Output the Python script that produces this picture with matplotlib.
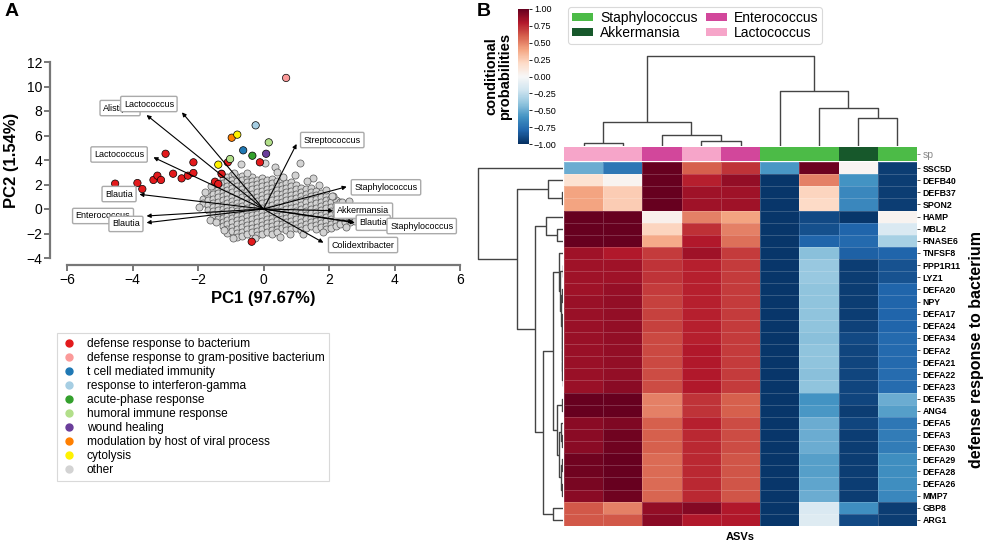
import numpy as np
import matplotlib
matplotlib.use("Agg")
import matplotlib.pyplot as plt
from matplotlib.lines import Line2D
from matplotlib.patches import Patch

plt.rcParams['font.family'] = ['Liberation Sans', 'DejaVu Sans']

# ---------------- Panel A data ----------------
go_terms = ["defense response to bacterium", "defense response to gram-positive bacterium",
            "t cell mediated immunity", "response to interferon-gamma", "acute-phase response",
            "humoral immune response", "wound healing", "modulation by host of viral process",
            "cytolysis", "other"]
go_colors = ["#e31a1c", "#fb9a99", "#1f78b4", "#a6cee3", "#33a02c", "#b2df8a",
             "#6a3d9a", "#ff7f00", "#fff200", "#d3d3d3"]

# highlighted ASVs (outside / on top of the cloud)
hit_x = [-4.53, -3.85, -3.70, -3.36, -3.24, -3.13, -2.99, -2.76, -2.50, -2.31, -2.14, -2.14,
         -1.48, -1.38, -1.28, -1.09, -0.11, -0.36,
         0.69, -4.28, -0.62, -0.24, -0.34, 0.16, -1.02, 0.08, -0.97, -0.80, -1.38]
hit_y = [2.07, 2.12, 1.63, 2.37, 2.72, 2.37, 4.51, 2.88, 2.50, 2.72, 2.94, 3.81,
         2.23, 2.04, 2.86, 3.81, 3.81, -2.67,
         10.70, 1.47, 4.79, 6.83, 4.35, 5.44, 4.08, 4.51, 5.82, 6.07, 3.62]
hit_term = [0, 0, 0, 0, 0, 0, 0, 0, 0, 0, 0, 0,
            0, 0, 0, 0, 0, 0,
            1, 1, 2, 3, 4, 5, 5, 6, 7, 8, 8]

# coloured ASVs partly buried in the cloud
buried_x = [0.05, 0.78, -0.60, 0.17, 0.96, -1.39, -1.48, -0.18, 1.47, 1.39, -0.70, 1.51, 2.34]
buried_y = [2.10, 1.41, -1.70, -1.12, -1.44, -0.33, 1.69, 1.63, 0.95, 0.73, 1.63, -0.96, -0.96]
buried_term = [0, 0, 0, 0, 4, 4, 5, 5, 5, 6, 7, 8, 8]

# the grey "other" cloud, column by column
other_col_x = [-1.85, -1.7, -1.55, -1.4, -1.25, -1.1, -0.95, -0.8, -0.65, -0.5, -0.35, -0.2,
               -0.05, 0.1, 0.25, 0.4, 0.55, 0.7, 0.85, 1.0, 1.15, 1.3, 1.45, 1.6, 1.75, 1.9,
               2.05, 2.2, 2.35, 2.5, 2.65, 2.8]
other_col_y = [
    [0.85, 0.45],
    [1.1, 0.7, 0.3, -0.05],
    [1.55, 1.2, 0.85, 0.5, 0.15, -0.2, -0.5],
    [2.0, 1.65, 1.3, 0.95, 0.6, 0.25, -0.1, -0.45, -0.8],
    [2.45, 2.1, 1.75, 1.4, 1.05, 0.7, 0.35, 0.0, -0.35, -0.7, -1.05, -1.4],
    [2.6, 2.25, 1.9, 1.55, 1.2, 0.85, 0.5, 0.15, -0.2, -0.55, -0.9, -1.25, -1.6, -1.95],
    [2.75, 2.4, 2.05, 1.7, 1.35, 1.0, 0.65, 0.3, -0.05, -0.4, -0.75, -1.1, -1.45, -1.8],
    [2.6, 2.25, 1.9, 1.55, 1.2, 0.85, 0.5, 0.15, -0.2, -0.55, -0.9, -1.25, -1.6, -1.95, -2.25],
    [2.7, 2.35, 2.0, 1.65, 1.3, 0.95, 0.6, 0.25, -0.1, -0.45, -0.8, -1.15, -1.5, -1.85, -2.2],
    [2.55, 2.2, 1.85, 1.5, 1.15, 0.8, 0.45, 0.1, -0.25, -0.6, -0.95, -1.3, -1.65, -2.0],
    [2.65, 2.3, 1.95, 1.6, 1.25, 0.9, 0.55, 0.2, -0.15, -0.5, -0.85, -1.2, -1.55, -1.9],
    [2.4, 2.05, 1.7, 1.35, 1.0, 0.65, 0.3, -0.05, -0.4, -0.75, -1.1, -1.45, -1.8, -2.1],
    [2.55, 2.2, 1.85, 1.5, 1.15, 0.8, 0.45, 0.1, -0.25, -0.6, -0.95, -1.3, -1.65, -2.0],
    [2.35, 2.0, 1.65, 1.3, 0.95, 0.6, 0.25, -0.1, -0.45, -0.8, -1.15, -1.5, -1.85],
    [2.45, 2.1, 1.75, 1.4, 1.05, 0.7, 0.35, 0.0, -0.35, -0.7, -1.05, -1.4, -1.75, -2.05],
    [2.25, 1.9, 1.55, 1.2, 0.85, 0.5, 0.15, -0.2, -0.55, -0.9, -1.25, -1.6, -1.9],
    [2.3, 1.95, 1.6, 1.25, 0.9, 0.55, 0.2, -0.15, -0.5, -0.85, -1.2, -1.55],
    [2.1, 1.75, 1.4, 1.05, 0.7, 0.35, 0.0, -0.35, -0.7, -1.05, -1.4, -1.75],
    [2.2, 1.85, 1.5, 1.15, 0.8, 0.45, 0.1, -0.25, -0.6, -0.95, -1.3, -1.65],
    [1.95, 1.6, 1.25, 0.9, 0.55, 0.2, -0.15, -0.5, -0.85, -1.2, -1.55],
    [1.75, 1.4, 1.05, 0.7, 0.35, 0.0, -0.35, -0.7, -1.05, -1.4, -1.75],
    [1.6, 1.25, 0.9, 0.55, 0.2, -0.15, -0.5, -0.85, -1.2, -1.55],
    [1.75, 1.4, 1.05, 0.7, 0.35, 0.0, -0.35, -0.7, -1.05, -1.4],
    [1.5, 1.15, 0.8, 0.45, 0.1, -0.25, -0.6, -0.95, -1.3, -1.6],
    [1.3, 0.95, 0.6, 0.25, -0.1, -0.45, -0.8, -1.15, -1.5],
    [1.1, 0.75, 0.4, 0.05, -0.3, -0.65, -1.0, -1.35, -1.65],
    [0.9, 0.55, 0.2, -0.15, -0.5, -0.85, -1.2, -1.55],
    [0.7, 0.35, 0.0, -0.35, -0.7, -1.05, -1.4],
    [0.55, 0.2, -0.15, -0.5, -0.85, -1.2],
    [0.3, -0.05, -0.4, -0.75, -1.1],
    [0.0, -0.35, -0.7, -1.05],
    [-0.55, -0.95],
]
other_out_x = [-0.70, 0.05, 0.35, 0.42, 1.11, 0.95, 1.50, 1.70, 2.13, 2.40, -0.90, -1.30,
               0.60, -0.50, -1.60, -1.78, -1.20, -0.92, 0.50, 1.22, 1.82, 2.52, 2.92, 2.62,
               1.92, 1.33, -1.62, -1.97, -0.25, 0.80, 2.10, -1.45]
other_out_y = [3.70, 3.73, 3.40, 3.06, 3.76, 2.80, 2.50, 1.95, 1.10, 0.55, 2.95, 2.95,
               2.60, 2.95, 1.90, 1.35, -1.75, -2.35, -2.25, -2.05, -1.90, -1.50, -0.25, 0.65,
               1.55, 2.25, -0.90, 0.20, -2.40, -2.05, 1.05, -1.10]

# loading vectors (genera)
load_names = ["Alistipes", "Lactococcus", "Lactococcus", "Streptococcus", "Staphylococcus",
              "Akkermansia", "Blautia", "Staphylococcus", "Colidextribacter", "Blautia",
              "Enterococcus", "Blautia"]
load_tip_x = [-3.57, -2.49, -3.36, 1.01, 2.54, 2.13, 2.79, 2.74, 1.83, -3.79, -3.57, -3.57]
load_tip_y = [7.67, 7.89, 4.22, 5.31, 1.82, -0.14, -1.12, -1.05, -2.75, 1.20, -0.57, -1.12]
label_x = [-4.38, -3.50, -4.41, 2.10, 3.74, 3.05, 3.35, 4.83, 3.04, -4.41, -4.90, -4.20]
label_y = [8.24, 8.57, 4.45, 5.63, 1.77, -0.14, -1.12, -1.39, -2.94, 1.22, -0.57, -1.22]

# ---------------- Panel B data ----------------
genes = ["SSC5D", "DEFB40", "DEFB37", "SPON2", "HAMP", "MBL2", "RNASE6", "TNFSF8", "PPP1R11",
         "LYZ1", "DEFA20", "NPY", "DEFA17", "DEFA24", "DEFA34", "DEFA2", "DEFA21", "DEFA22",
         "DEFA23", "DEFA35", "ANG4", "DEFA5", "DEFA3", "DEFA30", "DEFA29", "DEFA28", "DEFA26",
         "MMP7", "GBP8", "ARG1"]
asv_species = ["Lactococcus", "Lactococcus", "Enterococcus", "Lactococcus", "Enterococcus",
               "Staphylococcus", "Staphylococcus", "Akkermansia", "Staphylococcus"]
species_names = ["Staphylococcus", "Akkermansia", "Enterococcus", "Lactococcus"]
species_colors = ["#4cbb47", "#17582b", "#d2479b", "#f6a5c9"]

cond_prob = [
    [-0.50, -0.72, 1.00, 0.60, 0.72, -0.58, 0.98, 0.02, -0.95],
    [0.15, 0.03, 1.00, 0.78, 0.88, -0.97, 0.50, -0.60, -0.95],
    [0.40, 0.25, 1.00, 0.85, 0.85, -0.97, 0.22, -0.65, -0.95],
    [0.40, 0.25, 1.00, 0.85, 0.85, -0.97, 0.20, -0.65, -0.95],
    [1.00, 1.00, 0.05, 0.50, 0.40, -0.97, -0.90, -0.97, 0.03],
    [1.00, 1.00, 0.22, 0.73, 0.50, -0.97, -0.88, -0.80, -0.15],
    [1.00, 1.00, 0.38, 0.80, 0.55, -0.97, -0.80, -0.78, -0.33],
    [0.85, 0.80, 0.70, 0.85, 0.70, -0.97, -0.42, -0.82, -0.80],
    [0.85, 0.85, 0.72, 0.78, 0.70, -0.97, -0.38, -0.95, -0.87],
    [0.85, 0.85, 0.72, 0.78, 0.70, -0.97, -0.38, -0.95, -0.87],
    [0.85, 0.87, 0.70, 0.78, 0.70, -0.97, -0.40, -0.95, -0.80],
    [0.86, 0.88, 0.68, 0.78, 0.70, -0.97, -0.40, -0.95, -0.80],
    [0.86, 0.88, 0.68, 0.78, 0.70, -0.97, -0.40, -0.95, -0.80],
    [0.86, 0.88, 0.68, 0.78, 0.70, -0.97, -0.40, -0.93, -0.80],
    [0.86, 0.88, 0.66, 0.78, 0.70, -0.97, -0.42, -0.90, -0.78],
    [0.86, 0.88, 0.66, 0.80, 0.70, -0.97, -0.40, -0.92, -0.78],
    [0.86, 0.88, 0.66, 0.80, 0.70, -0.97, -0.40, -0.92, -0.78],
    [0.86, 0.88, 0.65, 0.80, 0.70, -0.97, -0.42, -0.92, -0.77],
    [0.86, 0.90, 0.65, 0.80, 0.70, -0.97, -0.40, -0.92, -0.77],
    [1.00, 1.00, 0.50, 0.72, 0.60, -0.97, -0.60, -0.92, -0.50],
    [1.00, 1.00, 0.50, 0.72, 0.60, -0.97, -0.58, -0.95, -0.55],
    [0.90, 0.93, 0.60, 0.78, 0.65, -0.97, -0.50, -0.92, -0.72],
    [0.90, 0.97, 0.60, 0.75, 0.65, -0.97, -0.50, -0.95, -0.70],
    [0.90, 0.97, 0.60, 0.75, 0.65, -0.97, -0.50, -0.95, -0.70],
    [0.97, 1.00, 0.57, 0.75, 0.63, -0.97, -0.55, -0.95, -0.62],
    [0.97, 1.00, 0.57, 0.75, 0.63, -0.97, -0.55, -0.95, -0.62],
    [0.95, 1.00, 0.57, 0.75, 0.63, -0.97, -0.53, -0.95, -0.62],
    [0.90, 0.97, 0.58, 0.75, 0.63, -0.97, -0.50, -0.95, -0.65],
    [0.62, 0.50, 0.88, 0.92, 0.80, -0.97, -0.15, -0.62, -0.95],
    [0.62, 0.62, 0.90, 0.80, 0.80, -0.97, -0.13, -0.90, -0.95],
]

# linkage (left, right, height) in display-order leaf ids
col_merges = [(0, 1, 3), (3, 4, 5), (2, 10, 11), (9, 11, 24), (7, 8, 28), (6, 13, 38),
              (5, 14, 55), (12, 15, 90)]
row_merges = [(2, 3, 1.0), (1, 30, 15), (5, 6, 6), (4, 32, 17), (28, 29, 10),
              (17, 18, 0.4), (16, 35, 0.6), (15, 36, 0.8), (14, 37, 1.0), (13, 38, 1.2),
              (12, 39, 1.5), (10, 11, 0.8), (41, 40, 2.0), (8, 9, 0.5), (43, 42, 2.8),
              (7, 44, 4.5), (19, 20, 1.5), (22, 23, 1.0), (21, 47, 2.0), (24, 25, 0.8),
              (26, 27, 1.0), (49, 50, 2.5), (48, 51, 4.0), (46, 52, 6.0), (45, 53, 10),
              (54, 34, 20), (33, 55, 28), (31, 56, 46), (0, 57, 85)]

# ---------------- Figure ----------------
W, H = 991, 544
fig = plt.figure(figsize=(W / 100, H / 100), dpi=100)


def rect(x0, y0, x1, y1):
    return [x0 / W, 1 - y1 / H, (x1 - x0) / W, (y1 - y0) / H]


# ---- Panel A ----
axA = fig.add_axes(rect(67, 62, 460, 258))
ox, oy = [], []
for cx, ys in zip(other_col_x, other_col_y):
    for yv in ys:
        ox.append(cx)
        oy.append(yv)
ox += other_out_x
oy += other_out_y

axA.scatter(buried_x, buried_y, s=26, c=[go_colors[t] for t in buried_term],
            edgecolors='black', linewidths=0.5, zorder=1)
axA.scatter(ox, oy, s=26, c=go_colors[9], edgecolors='#555555', linewidths=0.5, zorder=2)
axA.scatter(hit_x, hit_y, s=28, c=[go_colors[t] for t in hit_term],
            edgecolors='black', linewidths=0.5, zorder=3)

for tx, ty in zip(load_tip_x, load_tip_y):
    axA.annotate("", xy=(tx, ty), xytext=(0, 0),
                 arrowprops=dict(arrowstyle='-|>', color='black', lw=0.8,
                                 mutation_scale=6, shrinkA=0, shrinkB=0), zorder=4)
for nm, lx, ly in zip(load_names, label_x, label_y):
    axA.text(lx, ly, nm, fontsize=6.5, ha='center', va='center', zorder=5,
             bbox=dict(boxstyle='round,pad=0.35,rounding_size=0.15', fc='white',
                       ec='#aaaaaa', lw=1.0))

axA.set_xlim(-6, 6)
axA.set_ylim(-4, 12)
axA.set_xticks([-6, -4, -2, 0, 2, 4, 6])
axA.set_yticks([-4, -2, 0, 2, 4, 6, 8, 10, 12])
axA.set_xticklabels(['\u22126', '\u22124', '\u22122', '0', '2', '4', '6'], fontweight='bold')
axA.set_yticklabels(['\u22124', '\u22122', '0', '2', '4', '6', '8', '10', '12'], fontweight='bold')
for s in ['top', 'right']:
    axA.spines[s].set_visible(False)
axA.spines['left'].set_position(('outward', 12))
axA.spines['bottom'].set_position(('outward', 5))
for s in ['left', 'bottom']:
    axA.spines[s].set_color('#777777')
    axA.spines[s].set_linewidth(1.6)
axA.tick_params(colors='#777777', width=1.4, length=4, labelcolor='black', labelsize=10, pad=2)
axA.set_xlabel('PC1 (97.67%)', fontsize=12, fontweight='bold', labelpad=3)
axA.set_ylabel('PC2 (1.54%)', fontsize=12, fontweight='bold', labelpad=5)

handles = [Line2D([], [], marker='o', linestyle='', markersize=5, markerfacecolor=c,
                  markeredgecolor=c, label=t) for t, c in zip(go_terms, go_colors)]
legA = fig.legend(handles=handles, loc='upper left', bbox_to_anchor=(57 / W, 1 - 333 / H),
                  fontsize=8.6, frameon=True, fancybox=False, labelspacing=0.17,
                  handlelength=1.2, handletextpad=0.9, borderpad=0.4, borderaxespad=0)
legA.get_frame().set_edgecolor('#d0d0d0')
legA.get_frame().set_linewidth(0.8)

fig.text(5 / W, 1 - 3 / H, 'A', fontsize=14, fontweight='bold', va='top', ha='left')
fig.text(477 / W, 1 - 3 / H, 'B', fontsize=14, fontweight='bold', va='top', ha='left')

# ---- Panel B ----
data = np.array(cond_prob)
nr, nc = data.shape
axH = fig.add_axes(rect(564, 162, 917, 526))
mesh = axH.pcolormesh(np.arange(nc + 1), np.arange(nr + 1), data, cmap='RdBu_r',
                      vmin=-1, vmax=1, edgecolors=(1, 1, 1, 0.18), linewidth=0.5)
axH.set_xlim(0, nc)
axH.set_ylim(nr, 0)
axH.yaxis.tick_right()
axH.set_yticks(np.arange(nr) + 0.5)
axH.set_yticklabels(genes, fontsize=6.3, fontweight='bold')
axH.set_xticks([])
axH.tick_params(axis='y', length=2.5, width=0.6, pad=1.5, colors='#333333', labelcolor='black')
for s in axH.spines.values():
    s.set_visible(False)
axH.set_xlabel('ASVs', fontsize=8, fontweight='bold', labelpad=4)

axCC = fig.add_axes(rect(564, 147, 917, 161))
sp_col = {n: c for n, c in zip(species_names, species_colors)}
axCC.bar(np.arange(nc) + 0.5, 1, width=1.0, color=[sp_col[s] for s in asv_species],
         linewidth=0)
axCC.set_xlim(0, nc)
axCC.set_ylim(0, 1)
axCC.set_xticks([])
axCC.yaxis.tick_right()
axCC.set_yticks([0.5])
axCC.set_yticklabels(['sp'], fontsize=7.5, color='#888888')
axCC.tick_params(axis='y', length=2.5, width=0.6, pad=1.5, colors='#777777', labelcolor='#888888')
for s in axCC.spines.values():
    s.set_visible(False)


def draw_dendro(ax, merges, n, orient):
    pos = {i: i + 0.5 for i in range(n)}
    hgt = {i: 0.0 for i in range(n)}
    for k, (a, b, h) in enumerate(merges):
        node = n + k
        xa, xb, ha, hb = pos[a], pos[b], hgt[a], hgt[b]
        if orient == 'top':
            ax.plot([xa, xa, xb, xb], [ha, h, h, hb], color='#444444', lw=1.0,
                    solid_capstyle='butt')
        else:
            ax.plot([ha, h, h, hb], [xa, xa, xb, xb], color='#444444', lw=1.0,
                    solid_capstyle='butt')
        pos[node] = (xa + xb) / 2
        hgt[node] = h


axCD = fig.add_axes(rect(564, 50, 917, 146))
draw_dendro(axCD, col_merges, nc, 'top')
axCD.set_xlim(0, nc)
axCD.set_ylim(0, 96)
axCD.axis('off')

axRD = fig.add_axes(rect(475, 162, 563, 526))
draw_dendro(axRD, row_merges, nr, 'left')
axRD.set_xlim(88, 0)
axRD.set_ylim(nr, 0)
axRD.axis('off')

cax = fig.add_axes(rect(518, 9, 529, 144))
cticks = [-1.0, -0.75, -0.5, -0.25, 0.0, 0.25, 0.5, 0.75, 1.0]
cb = fig.colorbar(mesh, cax=cax, ticks=cticks)
cb.ax.set_yticklabels([('%.2f' % t).replace('-', '\u2212') for t in cticks])
cb.outline.set_visible(False)
cb.ax.tick_params(labelsize=6.5, length=2, width=0.6, pad=1.5)
cb.ax.yaxis.set_label_position('left')
cb.ax.set_ylabel('conditional\nprobabilities', fontsize=10.5, fontweight='bold', labelpad=4,
                 linespacing=1.0)

legB = fig.legend(handles=[Patch(facecolor=c, label=n) for n, c in zip(species_names, species_colors)],
                  ncol=2, loc='upper left', bbox_to_anchor=(568 / W, 1 - 7 / H), fontsize=10,
                  handlelength=1.5, handleheight=0.45, labelspacing=0.05, columnspacing=0.6,
                  handletextpad=0.5, borderpad=0.3, borderaxespad=0, frameon=True, fancybox=True)
legB.get_frame().set_edgecolor('#d0d0d0')
legB.get_frame().set_linewidth(0.8)

fig.text(976 / W, 1 - 349 / H, 'defense response to bacterium', rotation=90, fontsize=11.5,
         fontweight='bold', ha='center', va='center')

fig.savefig('out.png', dpi=100)
